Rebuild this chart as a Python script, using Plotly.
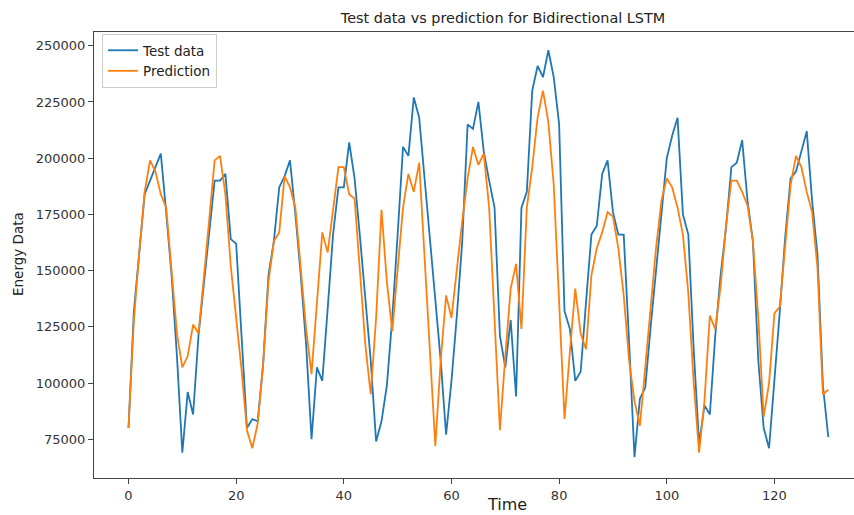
import plotly.graph_objects as go

time_idx = list(range(131))

test_data = [
    80, 132, 158, 184, 190, 196, 202, 176, 148, 112,
    69, 96, 86, 121, 145, 168, 190, 190, 193, 164,
    162, 121, 80, 84, 83, 108, 148, 163, 187, 192,
    199, 175, 148, 117, 75, 107, 101, 133, 166, 187,
    187, 207, 191, 165, 138, 110, 74, 83, 99, 129,
    166, 205, 201, 227, 218, 191, 167, 139, 110, 77,
    101, 130, 163, 215, 213, 225, 203, 190, 178, 121,
    107, 128, 94, 178, 185, 230, 241, 236, 248, 236,
    215, 132, 124, 101, 105, 136, 166, 170, 193, 199,
    176, 166, 166, 118, 67, 93, 98, 125, 150, 178,
    200, 210, 218, 175, 166, 115, 73, 90, 86, 121,
    148, 169, 196, 198, 208, 181, 163, 110, 80, 71,
    100, 132, 165, 191, 194, 203, 212, 181, 157, 99,
    76,
]

prediction = [
    80, 128, 158, 185, 199, 194, 184, 178, 150, 122,
    107, 112, 126, 122, 147, 172, 199, 201, 184, 152,
    129, 106, 79, 71, 82, 108, 145, 163, 167, 192,
    187, 178, 151, 124, 104, 136, 167, 158, 178, 196,
    196, 184, 182, 148, 117, 95, 129, 177, 145, 123,
    152, 178, 193, 185, 198, 155, 115, 72, 110, 139,
    129, 151, 172, 191, 205, 197, 202, 178, 130, 79,
    112, 142, 153, 124, 178, 196, 218, 230, 216, 188,
    136, 84, 114, 142, 122, 115, 148, 160, 167, 176,
    174, 160, 139, 110, 92, 81, 107, 133, 160, 181,
    191, 187, 178, 166, 140, 100, 69, 92, 130, 124,
    143, 170, 190, 190, 185, 179, 163, 129, 85, 100,
    131, 134, 160, 188, 201, 196, 185, 176, 151, 95,
    97,
]

test_vals = [v * 1000 for v in test_data]
pred_vals = [v * 1000 for v in prediction]

x_ticks = [0, 20, 40, 60, 80, 100, 120]
y_ticks = [75000, 100000, 125000, 150000, 175000, 200000, 225000, 250000]

W, H = 854, 515
L, R, T, B = 94, 0, 32, 37

fig = go.Figure()
fig.add_trace(go.Scatter(x=time_idx, y=test_vals, mode="lines", name="Test data",
                         line=dict(color="#1f77b4", width=1.8)))
fig.add_trace(go.Scatter(x=time_idx, y=pred_vals, mode="lines", name="Prediction",
                         line=dict(color="#ff7f0e", width=1.8)))

pw = W - L - R
ph = H - T - B

fig.update_layout(
    width=W, height=H,
    margin=dict(l=L, r=R, t=T, b=B, pad=0),
    paper_bgcolor="white", plot_bgcolor="white",
    font=dict(family="DejaVu Sans", size=13, color="#333333"),
    title=dict(text="Test data vs prediction for Bidirectional LSTM",
               xref="container", yref="container",
               x=503 / W, y=1 - 18 / H, xanchor="center", yanchor="middle",
               font=dict(size=14.4, color="#222222")),
    showlegend=True,
    legend=dict(x=(102 - L) / pw, y=1 - (34 - T) / ph, xanchor="left", yanchor="top",
                bgcolor="rgba(255,255,255,0.8)", bordercolor="#cccccc", borderwidth=1,
                font=dict(size=13.5, color="#222222"), tracegroupgap=2),
    xaxis=dict(range=[-6.41, 134.78], tickmode="array", tickvals=x_ticks,
               ticks="outside", ticklen=5, tickcolor="#444444", showgrid=False,
               zeroline=False, showline=True, linecolor="#444444", linewidth=1,
               mirror=True, tickfont=dict(size=13, color="#333333")),
    yaxis=dict(range=[57780, 256100], tickmode="array", tickvals=y_ticks,
               ticktext=[str(v) for v in y_ticks],
               ticks="outside", ticklen=5, tickcolor="#444444", showgrid=False,
               zeroline=False, showline=True, linecolor="#444444", linewidth=1,
               tickfont=dict(size=13, color="#333333")),
    annotations=[
        dict(text="Energy Data", xref="paper", yref="paper",
             x=(18 - L) / pw, y=1 - (254 - T) / ph, textangle=-90,
             showarrow=False, xanchor="center", yanchor="middle",
             font=dict(size=13.5, color="#222222")),
        dict(text="Time", xref="paper", yref="paper",
             x=(507 - L) / pw, y=1 - (504 - T) / ph,
             showarrow=False, xanchor="center", yanchor="middle",
             font=dict(size=16, color="#222222")),
    ],
)

fig.write_html("out.html")
